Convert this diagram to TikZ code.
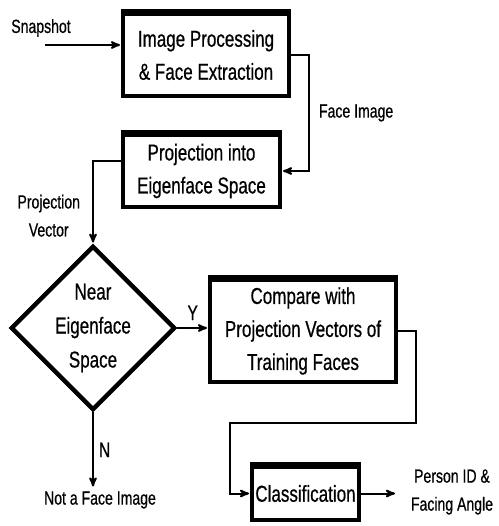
\documentclass[tikz,border=0pt]{standalone}
\usepackage{fontspec}
\setmainfont[FakeStretch=0.74,FakeBold=0.6]{Liberation Sans}
\usepackage{tikz}
\usetikzlibrary{arrows,shapes.geometric}
\usetikzlibrary{calc}
\usetikzlibrary{positioning}

\begin{document}
\begin{tikzpicture}[-,>=stealth',shorten >=1pt,auto,x=1pt,y=1pt,
                    line width=2pt]
 				 \tikzstyle{block}=[rectangle, draw=black, fill=white, line width=4pt, align=center, inner sep=2pt, font=\fontsize{23}{33}\selectfont]
 				 \tikzstyle{decision}=[diamond, draw=black, fill=white, line width=4.5pt, align=center, inner sep=0pt, minimum width=147pt, minimum height=146pt, font=\fontsize{23}{34}\selectfont]
 				 \tikzstyle{txt}=[align=center, inner sep=3pt, font=\fontsize{19}{28}\selectfont]
 				 \useasboundingbox (0,0) rectangle (498,-526);
 					 \node[block, minimum width=166pt, minimum height=82pt] (proc) at (206,-55) {Image Processing\\\& Face Extraction};
  					 \node[block, minimum width=157pt, minimum height=72pt] (proj) [below of=proc, node distance=116pt, xshift=-4.5pt] {Projection into\\Eigenface Space};
  					 \node[decision] (near) [below of=proj, node distance=157pt, xshift=-108.5pt] {Near\\Eigenface\\Space};
  					 \node[block, minimum width=186pt, minimum height=102pt] (comp) [right of=near, node distance=210pt, yshift=-3pt] {Compare with\\Projection Vectors of\\Training Faces};
  					 \node[block, minimum width=107pt, minimum height=53pt] (cls) [below of=comp, node distance=162.5pt, xshift=2.5pt] {Classification};
  					 \node[txt] (snap) [left of=proc, node distance=165pt, yshift=27pt] {Snapshot};
  					 \node[txt] (notface) [below of=near, node distance=172pt, xshift=7pt] {Not a Face Image};
  					 \node[txt] (person) [right of=cls, node distance=146.5pt, yshift=1.5pt] {Person ID \&\\Facing Angle};
  					 \coordinate (snapin) at (45,-45);
 					 % thick top edge of the boxes
 					 \foreach \b in {proc,proj,comp,cls}
 					 		 \draw[line width=3pt, shorten >=0pt] ([yshift=1.5pt]\b.north west) -- ([yshift=1.5pt]\b.north east);
 					 \path[->] (snapin) edge (snapin -| proc.west)
 					 		 	(cls.east) edge[shorten >=12pt] (cls.east -| person.west);
 					 \draw[->] (proc.east) -- ++(18pt,0) |- (proj.east)
 					 		 	node[txt, pos=0.25, xshift=6pt] {Face Image};
 					 \draw[->] ([yshift=9.5pt]proj.west) -| (near.north)
 					 		 	node[txt, pos=0.83, left=9pt] {Projection\\Vector};
 					 \draw[->] (near.east) -- (near.east -| comp.west)
 					 		 	node[txt, midway, above=4pt, font=\fontsize{21}{24}\selectfont] {Y};
 					 \draw[->] (near.south) -- (near.south |- notface.north)
 					 		 	node[txt, midway, right=2pt, font=\fontsize{21}{24}\selectfont] {N};
 					 \draw[->] (comp.east) -| ++(18pt,-92pt) -| ([xshift=-20pt]cls.west) -- (cls.west);
				\end{tikzpicture}
\end{document}
